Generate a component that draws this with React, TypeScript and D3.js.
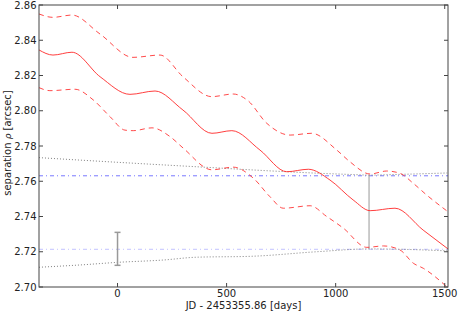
import { useEffect, useRef } from "react";
import * as d3 from "d3";

// days since JD 2453355.86 and separation (arcsec)
const fitDays = [-360, -296, -209, -80, 57, 172, 300, 433, 524, 653, 776, 875, 974, 1080, 1158, 1272, 1401, 1515];
const fitSep = [2.8345, 2.8316, 2.8332, 2.8193, 2.8093, 2.8112, 2.8004, 2.7872, 2.7887, 2.7777, 2.7654, 2.7668, 2.7607, 2.7494, 2.7433, 2.7447, 2.7323, 2.7216];

const upperDays = [-360, -296, -209, -80, 71, 195, 300, 432, 530, 598, 684, 791, 890, 1005, 1066, 1158, 1234, 1295, 1356, 1418, 1515];
const upperSep = [2.8549, 2.853, 2.8543, 2.8435, 2.8303, 2.8316, 2.8193, 2.808, 2.8095, 2.8057, 2.7929, 2.7862, 2.7872, 2.7777, 2.771, 2.7641, 2.7658, 2.7645, 2.7588, 2.7521, 2.7427];

const lowerDays = [-360, -310, -195, -111, -34, 34, 72, 158, 241, 302, 433, 530, 623, 699, 760, 883, 959, 1035, 1143, 1219, 1295, 1356, 1402, 1515];
const lowerSep = [2.8131, 2.8114, 2.8122, 2.8061, 2.7966, 2.789, 2.7887, 2.7903, 2.7853, 2.7787, 2.7665, 2.768, 2.7617, 2.7512, 2.7447, 2.7461, 2.74, 2.7334, 2.7225, 2.7233, 2.721, 2.7135, 2.7106, 2.6995];

const envDays = [-360, -172, 134, 438, 621, 776, 928, 1080, 1153, 1295, 1511];
const envTopSep = [2.7734, 2.772, 2.7698, 2.7677, 2.7664, 2.7654, 2.7645, 2.7638, 2.7635, 2.7639, 2.7647];
const envBotDays = [-360, -172, 2, 209, 363, 608, 913, 1153, 1295, 1511];
const envBotSep = [2.7112, 2.7125, 2.714, 2.7153, 2.7169, 2.7174, 2.72, 2.7216, 2.7214, 2.7205];

const refSep = [2.7631, 2.7214];
const markDay = 1153;
const markRange = [2.7216, 2.7636];

const obsDay = 0;
const obsRange = [2.7123, 2.731];

const xTicks = [0, 500, 1000, 1500];
const yTicks = [2.70, 2.72, 2.74, 2.76, 2.78, 2.80, 2.82, 2.84, 2.86];

const W = 458;
const H = 311;
const margin = { top: 5, right: 10, bottom: 24, left: 39 };
const font = "DejaVu Sans, sans-serif";

const App = () => {
  const svgRef = useRef<SVGSVGElement>(null);

  useEffect(() => {
    const svg = d3.select(svgRef.current);
    svg.selectAll("*").remove();

    const x = d3.scaleLinear().domain([-360, 1515]).range([margin.left, W - margin.right]);
    const y = d3.scaleLinear().domain([2.70, 2.86]).range([H - margin.bottom, margin.top]);
    const [x0, x1] = x.range();
    const [y1, y0] = y.range();

    svg.append("defs").append("clipPath").attr("id", "plot")
      .append("rect").attr("x", x0).attr("y", y0).attr("width", x1 - x0).attr("height", y1 - y0);

    const g = svg.append("g").attr("clip-path", "url(#plot)");

    const line = d3.line<[number, number]>()
      .x(d => x(d[0]))
      .y(d => y(d[1]))
      .curve(d3.curveMonotoneX);

    const zip = (a: number[], b: number[]) => a.map((d, i) => [d, b[i]] as [number, number]);

    // reference levels
    g.selectAll("line.ref")
      .data(refSep)
      .join("line")
      .attr("x1", x0).attr("x2", x1)
      .attr("y1", d => y(d)).attr("y2", d => y(d))
      .attr("stroke", (d, i) => (i === 0 ? "#6060ff" : "#9a9aff"))
      .attr("stroke-opacity", (d, i) => (i === 0 ? 0.85 : 0.6))
      .attr("stroke-width", 1)
      .attr("stroke-dasharray", "4,3,1,3");

    // envelopes
    [zip(envDays, envTopSep), zip(envBotDays, envBotSep)].forEach(pts => {
      g.append("path")
        .attr("d", line(pts))
        .attr("fill", "none")
        .attr("stroke", "#555")
        .attr("stroke-opacity", 0.75)
        .attr("stroke-width", 1)
        .attr("stroke-dasharray", "1,2");
    });

    // vertical marker
    g.append("line")
      .attr("x1", x(markDay)).attr("x2", x(markDay))
      .attr("y1", y(markRange[0])).attr("y2", y(markRange[1]))
      .attr("stroke", "#999")
      .attr("stroke-width", 1);

    // fit and bounds
    g.append("path")
      .attr("d", line(zip(fitDays, fitSep)))
      .attr("fill", "none")
      .attr("stroke", "#ff2a2a")
      .attr("stroke-opacity", 0.9)
      .attr("stroke-width", 1);

    [zip(upperDays, upperSep), zip(lowerDays, lowerSep)].forEach(pts => {
      g.append("path")
        .attr("d", line(pts))
        .attr("fill", "none")
        .attr("stroke", "#ff2a2a")
        .attr("stroke-opacity", 0.85)
        .attr("stroke-width", 1)
        .attr("stroke-dasharray", "5,4");
    });

    // observation with error bar
    const eb = g.append("g").attr("stroke", "#999").attr("stroke-width", 1.5);
    eb.append("line")
      .attr("x1", x(obsDay)).attr("x2", x(obsDay))
      .attr("y1", y(obsRange[0])).attr("y2", y(obsRange[1]));
    obsRange.forEach(v => {
      eb.append("line")
        .attr("x1", x(obsDay) - 3).attr("x2", x(obsDay) + 3)
        .attr("y1", y(v)).attr("y2", y(v));
    });

    // frame
    svg.append("rect")
      .attr("x", x0).attr("y", y0)
      .attr("width", x1 - x0).attr("height", y1 - y0)
      .attr("fill", "none")
      .attr("stroke", "#444")
      .attr("stroke-width", 1);

    // inward ticks on all sides
    const ticks = svg.append("g").attr("stroke", "#444").attr("stroke-width", 1);
    xTicks.forEach(t => {
      ticks.append("line").attr("x1", x(t)).attr("x2", x(t)).attr("y1", y1).attr("y2", y1 - 4);
      ticks.append("line").attr("x1", x(t)).attr("x2", x(t)).attr("y1", y0).attr("y2", y0 + 4);
    });
    yTicks.forEach(t => {
      ticks.append("line").attr("x1", x0).attr("x2", x0 + 4).attr("y1", y(t)).attr("y2", y(t));
      ticks.append("line").attr("x1", x1).attr("x2", x1 - 4).attr("y1", y(t)).attr("y2", y(t));
    });

    svg.append("g")
      .selectAll("text")
      .data(xTicks)
      .join("text")
      .attr("x", d => x(d))
      .attr("y", y1 + 10)
      .attr("text-anchor", "middle")
      .attr("font-family", font)
      .attr("font-size", 10)
      .attr("fill", "#222")
      .text(d => d);

    svg.append("g")
      .selectAll("text")
      .data(yTicks)
      .join("text")
      .attr("x", x0 - 2.5)
      .attr("y", d => y(d))
      .attr("dy", "0.36em")
      .attr("text-anchor", "end")
      .attr("font-family", font)
      .attr("font-size", 10)
      .attr("fill", "#222")
      .text(d => d.toFixed(2));

    svg.append("text")
      .attr("x", (x0 + x1) / 2)
      .attr("y", H - 2.5)
      .attr("text-anchor", "middle")
      .attr("font-family", font)
      .attr("font-size", 10)
      .attr("fill", "#222")
      .text("JD - 2453355.86 [days]");

    const yl = svg.append("text")
      .attr("transform", `translate(10.5, ${(y0 + y1) / 2 - 3}) rotate(-90)`)
      .attr("text-anchor", "middle")
      .attr("font-family", font)
      .attr("font-size", 10)
      .attr("fill", "#222");
    yl.append("tspan").text("separation ");
    yl.append("tspan").attr("font-style", "italic").attr("font-size", 9).text("ρ");
    yl.append("tspan").text(" [arcsec]");
  }, []);

  return (
    <svg
      ref={svgRef}
      width={W}
      height={H}
      style={{ position: "fixed", left: 0, top: 0, background: "#fff" }}
    ></svg>
  );
};

export default App;
